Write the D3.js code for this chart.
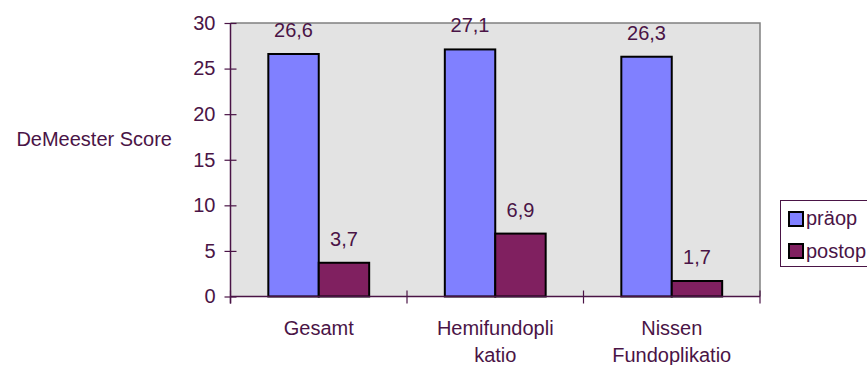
<!DOCTYPE html>
<html><head><meta charset="utf-8">
<script src="https://cdn.jsdelivr.net/npm/d3@7"></script>
<style>body{margin:0;background:#fff}svg{display:block}text{font-family:"Liberation Sans",Arial,sans-serif}</style>
</head><body>
<svg id="c" width="867" height="365"></svg>
<script>
const categories = [["Gesamt"], ["Hemifundopli", "katio"], ["Nissen", "Fundoplikatio"]];
const seriesNames = ["präop", "postop"];
const praeop = [26.6, 27.1, 26.3];
const postop = [3.7, 6.9, 1.7];
const yTicks = [0, 5, 10, 15, 20, 25, 30];
const yTitle = "DeMeester Score";

const colors = ["#8080ff", "#802060"];
const txt = "#4a1446";
const svg = d3.select("#c");
const L = 230.5, R = 760, T = 23, B = 296.5;
const catKeys = categories.map(c => c.join(" "));
const x0 = d3.scaleBand().domain(catKeys).range([L, R]).padding(0);
const bw = x0.bandwidth();
const gap = bw * 1.5 / 3.5;
const x1 = d3.scaleBand().domain(seriesNames).range([gap / 2, bw - gap / 2]).padding(0);
const y = d3.scaleLinear().domain([0, 30]).range([B, T]);
const fmt = v => String(v).replace(".", ",");

svg.append("rect").attr("x", L).attr("y", T).attr("width", R - L).attr("height", B - T).attr("fill", "#e3e3e3");
svg.append("path").attr("d", `M${L},${T}H${R}V${B}`).attr("fill", "none").attr("stroke", "#808080").attr("stroke-width", 1.5);

const data = [praeop, postop];
data.forEach((vals, si) => {
  svg.append("g").selectAll("rect").data(vals).join("rect")
    .attr("x", (d, i) => x0(catKeys[i]) + x1(seriesNames[si]))
    .attr("y", d => y(d))
    .attr("width", x1.bandwidth())
    .attr("height", d => y(0) - y(d))
    .attr("fill", colors[si]).attr("stroke", "#000").attr("stroke-width", 2);
  svg.append("g").selectAll("text").data(vals).join("text")
    .attr("x", (d, i) => x0(catKeys[i]) + x1(seriesNames[si]) + x1.bandwidth() / 2)
    .attr("y", d => y(d) - 17)
    .attr("text-anchor", "middle").attr("font-size", 20).attr("fill", txt)
    .text(fmt);
});

// y axis
const ya = svg.append("g").attr("transform", `translate(${L},0)`)
  .call(d3.axisLeft(y).tickValues(yTicks).tickSize(6).tickPadding(9));
ya.select(".domain").remove();
ya.append("line").attr("x1", 0).attr("x2", 0).attr("y1", T).attr("y2", B + 7).attr("stroke", txt).attr("stroke-width", 1.5);
ya.selectAll(".tick line").attr("x1", -6).attr("x2", 6).attr("stroke", txt).attr("stroke-width", 1.2);
ya.selectAll(".tick text").attr("font-size", 20).attr("fill", txt).attr("font-family", '"Liberation Sans",Arial,sans-serif');

// x axis
const xa = svg.append("g").attr("transform", `translate(0,${B})`)
  .call(d3.axisBottom(x0).tickSize(0).tickPadding(0));
xa.select(".domain").remove();
xa.append("line").attr("x1", L).attr("x2", R).attr("stroke", txt).attr("stroke-width", 1.5);
const bounds = [L].concat(catKeys.map(k => x0(k) + bw));
xa.selectAll(".bt").data(bounds).join("line").attr("class", "bt")
  .attr("x1", d => d).attr("x2", d => d).attr("y1", -6).attr("y2", 7).attr("stroke", txt).attr("stroke-width", 1.2);
xa.selectAll(".tick text").each(function(d, i) {
  const t = d3.select(this).text(null).attr("y", 0).attr("dy", null)
    .attr("font-size", 20).attr("fill", txt).attr("font-family", '"Liberation Sans",Arial,sans-serif');
  categories[i].forEach((line, li) => {
    t.append("tspan").attr("x", 0).attr("y", 38.5 + li * 27).text(line);
  });
});

// y title
svg.append("text").attr("x", 172).attr("y", 146).attr("text-anchor", "end")
  .attr("font-size", 20).attr("fill", txt).text(yTitle);

// legend
const lg = svg.append("g");
lg.append("rect").attr("x", 780.5).attr("y", 200.5).attr("width", 120).attr("height", 66).attr("fill", "#fff").attr("stroke", txt).attr("stroke-width", 1);
seriesNames.forEach((n, i) => {
  lg.append("rect").attr("x", 789).attr("y", 212 + i * 32).attr("width", 14).attr("height", 14)
    .attr("fill", colors[i]).attr("stroke", "#000").attr("stroke-width", 2);
  lg.append("text").attr("x", 806).attr("y", 225 + i * 32.5).attr("font-size", 20).attr("fill", txt).text(n);
});
</script>
</body></html>
